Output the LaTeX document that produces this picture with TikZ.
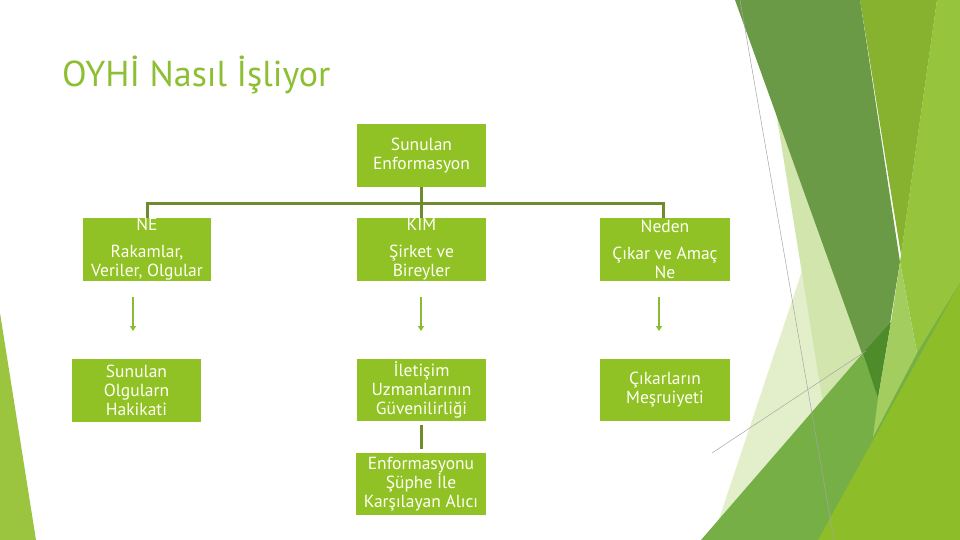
\documentclass[tikz,border=0pt]{standalone}
\usepackage{fontspec}
\setmainfont{PT Sans}
\usetikzlibrary{arrows.meta}
\definecolor{boxgreen}{HTML}{90C226}
\definecolor{titlegreen}{HTML}{8CBF34}
\definecolor{connolive}{HTML}{6E8C2E}
\definecolor{arrgreen}{HTML}{8DBA35}
\definecolor{bgR}{HTML}{96C53D}
\definecolor{bgO}{HTML}{87B230}
\definecolor{bgD}{HTML}{6A9A46}
\definecolor{bgP1}{HTML}{E3EFCB}
\definecolor{bgP2}{HTML}{D2E5AD}
\definecolor{bgM}{HTML}{75AF45}
\definecolor{bgT}{HTML}{4E8B2B}
\definecolor{bgQ}{HTML}{A4CD5F}
\definecolor{bgB}{HTML}{8DBE2A}
\definecolor{bgL}{HTML}{9BC43F}
\definecolor{boxtext}{HTML}{FFFFF4}
\tikzset{
  orgbox/.style={fill=boxgreen, text=boxtext, align=center, inner sep=0pt,
    minimum width=129pt, minimum height=63pt, font=\fontsize{17.5}{19}\selectfont},
  conn/.style={draw=connolive, line width=3pt},
  arr/.style={draw=arrgreen, line width=1.5pt, -{Triangle[width=6pt,length=5pt]}},
  thinline/.style={draw=black!35, line width=0.5pt}
}
\begin{document}
\begin{tikzpicture}[x=1pt,y=-1pt]
\useasboundingbox (0,0) rectangle (960,540);
% background decoration
\fill[bgL] (0,313) -- (0,540) -- (36,540) -- cycle;
\fill[bgR] (937,0) -- (960,0) -- (960,540) -- (900,540) -- (917,353) -- (900,262) -- cycle;
\fill[bgO] (860,0) -- (937,0) -- (901,255) -- cycle;
\fill[bgP1] (712,540) -- (805,262) -- (860,262) -- (840,540) -- cycle;
\fill[bgP2] (758,0) -- (800,0) -- (878,398) -- (822,398) -- cycle;
\fill[bgD] (735,0) -- (860,0) -- (900,262) -- (878,398) -- cycle;
\fill[bgM] (701,540) -- (863,353) -- (878,398) -- (917,353) -- (960,283) -- (960,540) -- cycle;
\fill[bgT] (863,353) -- (891,322) -- (878,398) -- cycle;
\fill[bgQ] (900,262) -- (917,353) -- (873,437) -- (878,398) -- (891,322) -- cycle;
\fill[bgB] (818,540) -- (960,283) -- (960,540) -- cycle;
\coordinate (l1a) at (740,0);
\coordinate (l1b) at (834,540);
\coordinate (l2a) at (712,453);
\coordinate (l2b) at (866,351);
\draw[thinline] (l1a) -- (l1b);
\draw[thinline] (l2a) -- (l2b);
% title
\node[anchor=base west, text=titlegreen, font=\fontsize{36}{40}\selectfont, inner sep=0pt] (title) at (62,87) {OYHİ Nasıl İşliyor};
% boxes
\node[orgbox] (top) at (421.5,155.5) {Sunulan\\Enformasyon};
\node[orgbox, minimum width=128pt] (ne) at (147,249.5) {NE\\[8pt]Rakamlar,\\Veriler, Olgular};
\node[orgbox] (kim) at (421.5,249.5) {KIM\\[8pt]Şirket ve\\Bireyler};
\node[orgbox, minimum width=130pt] (neden) at (665,249.5) {Neden\\[8pt]Çıkar ve Amaç\\Ne};
\node[orgbox] (olg) at (136.5,390.5) {Sunulan\\Olgularn\\Hakikati};
\node[orgbox, minimum height=62pt] (ilet) at (421.5,390) {İletişim\\Uzmanlarının\\Güvenilirliği};
\node[orgbox, minimum width=130pt, minimum height=62pt] (cik) at (665,390) {Çıkarların\\Meşruiyeti};
\node[orgbox, minimum width=130pt, minimum height=62pt] (enf) at (421,484) {Enformasyonu\\Şüphe İle\\Karşılayan Alıcı};
% connectors
\draw[conn] (top.south) -- (kim.north);
\draw[conn] (top.south) -- ++(0,16) -| ([xshift=0.5pt]ne.north);
\draw[conn] (top.south) -- ++(0,16) -| ([xshift=-1.5pt]neden.north);
\draw[conn, shorten <=4pt, shorten >=4pt] (ilet.south) -- (ilet.south |- enf.north);
% arrows
\coordinate (a1s) at (133,297);
\coordinate (a1e) at (133,331);
\coordinate (a2s) at (421,297);
\coordinate (a2e) at (421,331);
\coordinate (a3s) at (659,297);
\coordinate (a3e) at (659,331);
\draw[arr] (a1s) -- (a1e);
\draw[arr] (a2s) -- (a2e);
\draw[arr] (a3s) -- (a3e);
\end{tikzpicture}
\end{document}
